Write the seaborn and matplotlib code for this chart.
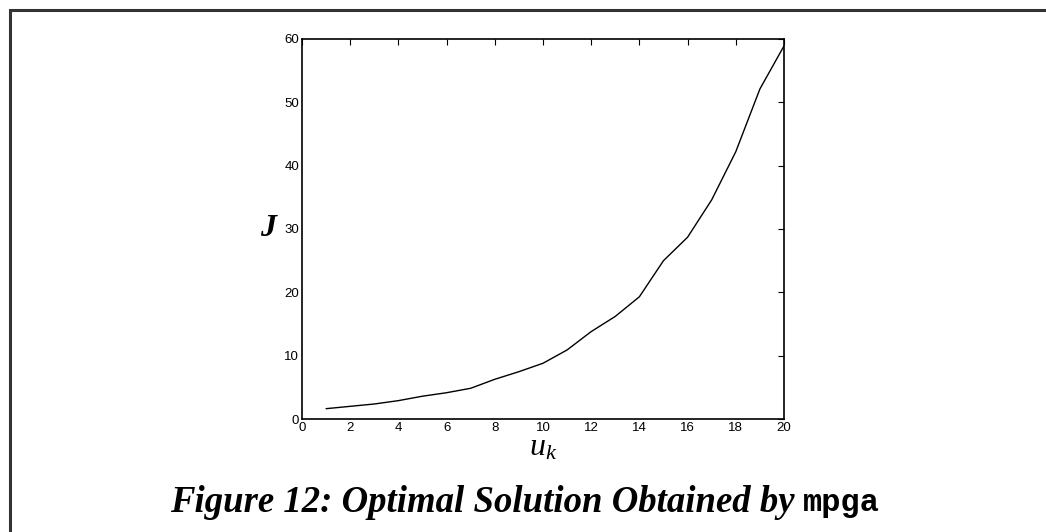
import matplotlib
matplotlib.use("Agg")
import matplotlib.pyplot as plt
import seaborn as sns
import pandas as pd
from matplotlib.patches import Rectangle

# Data
u_k = list(range(1, 21))
J_vals = [1.63, 2.0, 2.37, 2.9, 3.6, 4.15, 4.85, 6.27, 7.47, 8.8,
          10.9, 13.8, 16.2, 19.3, 25.0, 28.7, 34.6, 42.2, 52.1, 58.9]
x_ticks = [0, 2, 4, 6, 8, 10, 12, 14, 16, 18, 20]
y_ticks = [0, 10, 20, 30, 40, 50, 60]
caption_main = "Figure 12: Optimal Solution Obtained by "
caption_code = "mpga"

sns.set_theme(style="white")
plt.rcParams['font.family'] = ['Liberation Sans', 'DejaVu Sans']
plt.rcParams['text.color'] = 'black'
plt.rcParams['axes.labelcolor'] = 'black'
plt.rcParams['mathtext.fontset'] = 'custom'
plt.rcParams['mathtext.it'] = 'Liberation Serif:italic'
plt.rcParams['mathtext.rm'] = 'Liberation Serif'

df = pd.DataFrame({"u": u_k, "J": J_vals})

fig = plt.figure(figsize=(10.46, 5.32), dpi=100)
ax = fig.add_axes([0.2887, 0.2124, 0.7495 - 0.2887, 0.9267 - 0.2124])
sns.lineplot(data=df, x="u", y="J", ax=ax, color="black", linewidth=1.0)

ax.set_xlim(0, 20)
ax.set_ylim(0, 60)
ax.set_xticks(x_ticks)
ax.set_yticks(y_ticks)
ax.tick_params(direction="in", length=4, width=0.8, top=True, right=True,
               labelsize=9.5, colors="black", labelcolor="black", pad=2)
for s in ax.spines.values():
    s.set_color("black")
    s.set_linewidth(1.2)

ax.set_xlabel(r"$u_k$", fontsize=23, labelpad=0, color="black")
ax.xaxis.set_label_coords(0.5, -0.035)
ax.set_ylabel("J", fontsize=23, rotation=0, va="center", ha="center",
              family="Liberation Serif", style="italic", weight="bold", color="black")
ax.yaxis.set_label_coords(-0.07, 0.5)

# outer frame
fig.add_artist(Rectangle((10 / 1046, -0.1), 1.2, 1 - 10 / 532 + 0.1,
                         transform=fig.transFigure, fill=False,
                         edgecolor="#333333", linewidth=2.2))

# caption
t1 = fig.text(0.5, 1 - 503 / 532, caption_main, fontsize=26.5,
              family="Liberation Serif", style="italic", weight="bold",
              ha="left", va="center", color="black")
t2 = fig.text(0.5, 1 - 503 / 532, caption_code, fontsize=23,
              family="Liberation Mono", weight="bold",
              ha="left", va="center", color="black")
fig.canvas.draw()
r = fig.canvas.get_renderer()
w1 = t1.get_window_extent(r).width
w2 = t2.get_window_extent(r).width
start = 525 - (w1 + w2) / 2
t1.set_x(start / 1046)
t2.set_x((start + w1) / 1046)

fig.savefig("out.png", dpi=100)
